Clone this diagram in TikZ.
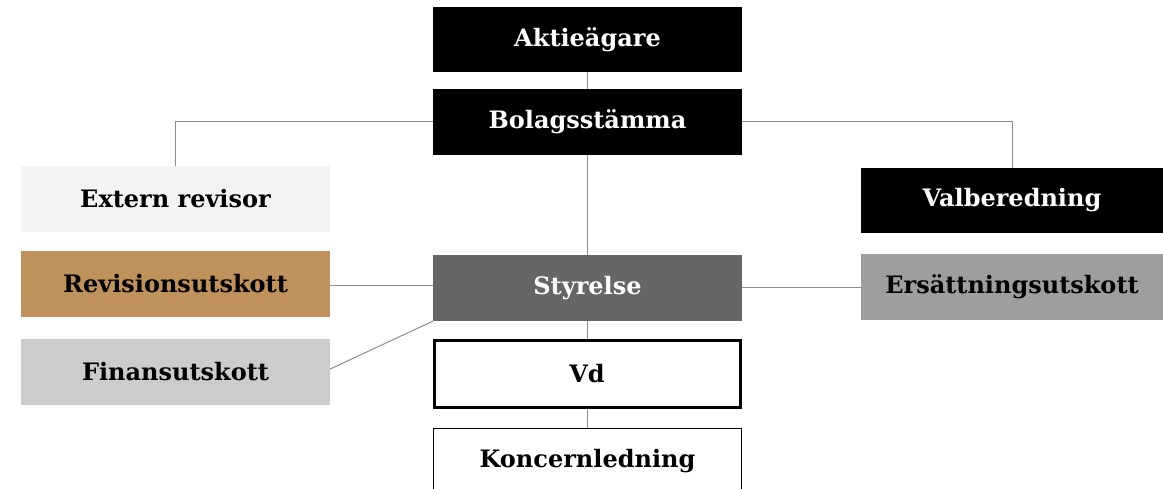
\documentclass[tikz,border=0pt]{standalone}
\usepackage{fontspec}
\setmainfont{DejaVu Serif}
\definecolor{extgray}{HTML}{F2F3F2}
\definecolor{tan}{HTML}{BF915C}
\definecolor{fingray}{HTML}{CCCCCC}
\definecolor{ersgray}{HTML}{9D9E9D}
\definecolor{stygray}{HTML}{666666}
\definecolor{linegray}{HTML}{8C8C8C}
\begin{document}
\begin{tikzpicture}[x=1pt,y=-1pt,
  box/.style={draw=none, minimum width=309pt, minimum height=66pt, inner sep=0pt,
    font=\fontsize{24}{28}\selectfont\bfseries},
  dark/.style={box, fill=black, text=white},
  conn/.style={draw=linegray, line width=1pt}]
\useasboundingbox (0,0) rectangle (1163,489);
\node[dark, minimum height=65pt] (akt) at (587.5,39.5) {Aktieägare};
\node[dark] (bol) at (587.5,122) {Bolagsstämma};
\node[box, fill=extgray] (ext) at (175.5,199) {Extern revisor};
\node[dark, minimum width=302pt, minimum height=65pt] (val) at (1012,200.5) {Valberedning};
\node[box, fill=tan] (rev) at (175.5,284) {Revisionsutskott};
\node[box, fill=stygray, text=white] (sty) at (587.5,288) {Styrelse};
\node[box, fill=ersgray, minimum width=302pt] (ers) at (1012,287) {Ersättningsutskott};
\node[box, fill=fingray] (fin) at (175.5,372) {Finansutskott};
\node[box, draw=black, line width=3pt, fill=white, minimum width=306pt, minimum height=67pt] (vd) at (587,374) {Vd};
\node[box, draw=black, line width=1pt, fill=white, minimum width=308pt, minimum height=66pt] (kon) at (587.5,461) {Koncernledning};
\draw[conn] (akt.south) -- (bol.north);
\draw[conn] (bol.west) -| (ext.north);
\draw[conn] (bol.east) -| (val.north);
\draw[conn] (bol.south) -- (sty.north);
\draw[conn] ([yshift=-2pt]rev.east) -- ([yshift=-2pt]rev.east -| sty.west);
\draw[conn] (sty.east) -- (sty.east -| ers.west);
\draw[conn] ([yshift=3pt]fin.east) -- (sty.south west);
\draw[conn] (sty.south) -- (sty.south |- vd.north);
\draw[conn] (vd.south) -- (vd.south |- kon.north);
\end{tikzpicture}
\end{document}
